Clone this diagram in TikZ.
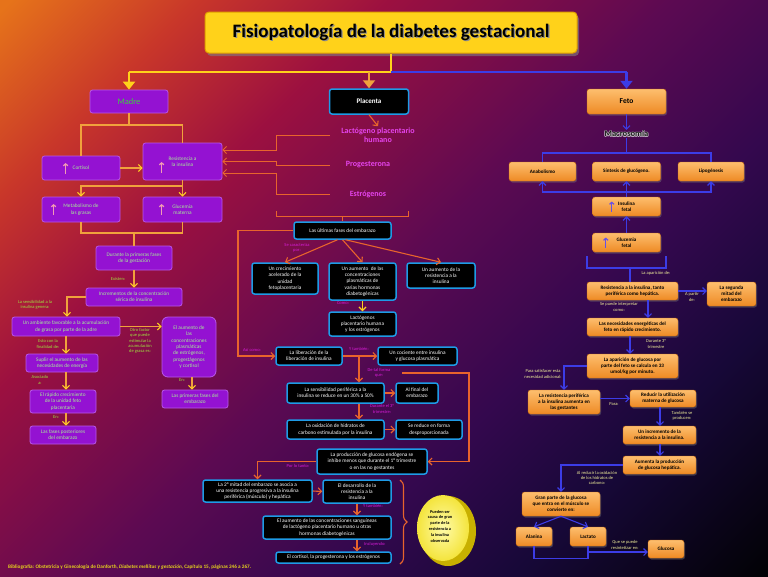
\documentclass[tikz,border=0pt]{standalone}
\usepackage{fontspec}
\setmainfont{Carlito}
\usetikzlibrary{calc}
\usetikzlibrary{arrows.meta,decorations.pathreplacing,shadows}

% colores del fondo
\definecolor{fondo0}{HTML}{E6731A}
\definecolor{fondo1}{HTML}{C8362A}
\definecolor{fondo2}{HTML}{9C1040}
\definecolor{fondo3}{HTML}{5C0A52}
\definecolor{fondo4}{HTML}{34084E}
\definecolor{fondo5}{HTML}{170838}
\definecolor{fondo6}{HTML}{020206}
\pgfdeclarehorizontalshading{fondo}{100bp}{color(0bp)=(fondo0); color(15bp)=(fondo0); color(25bp)=(fondo1); color(35bp)=(fondo2); color(50bp)=(fondo3); color(62bp)=(fondo4); color(72bp)=(fondo5); color(85bp)=(fondo6); color(100bp)=(fondo6)}

% colores de cajas y lineas
\definecolor{oro}{HTML}{FFD21A}
\definecolor{oroborde}{HTML}{E0A000}
\definecolor{lila}{HTML}{9412D2}
\definecolor{lilaborde}{HTML}{B858E8}
\definecolor{verdeM}{HTML}{3CD23C}
\definecolor{verdeT}{HTML}{A6EE96}
\definecolor{verdeE}{HTML}{9EE040}
\definecolor{celeste}{HTML}{1E9BE6}
\definecolor{magentaE}{HTML}{D81CD8}
\definecolor{magentaH}{HTML}{E444EC}
\definecolor{naranjaA}{HTML}{FDBE6E}
\definecolor{naranjaB}{HTML}{EE8A24}
\definecolor{naranjaborde}{HTML}{C86A10}
\definecolor{amarilloE}{HTML}{F0EE9A}
\definecolor{lineaIzq}{HTML}{F0A23C}
\definecolor{puntaIzq}{HTML}{FFD21F}
\definecolor{lineaCen}{HTML}{E8642C}
\definecolor{lineaDer}{HTML}{3C3CE6}
\definecolor{rosa}{HTML}{F29CB4}
\definecolor{violeta}{HTML}{6650E8}
\definecolor{moneda}{HTML}{F4E43C}
\definecolor{monedaB}{HTML}{C8B000}
\definecolor{monedaC}{HTML}{FFFBA8}
\definecolor{biblio}{HTML}{E6D21E}

\tikzset{
  wh/.style 2 args={minimum width=#1pt, minimum height=#2pt},
  titulo/.style={rounded corners=4pt, fill=oro, draw=oroborde, line width=1pt,
    drop shadow={opacity=.6, shadow xshift=2pt, shadow yshift=-3pt}},
  caja/.style={rounded corners=2.5pt, align=center, inner sep=1pt, font=\fontsize{5.3}{6.3}\selectfont},
  cajaM/.style={caja, fill=lila, draw=lilaborde, line width=.8pt, text=verdeT},
  cajaP/.style={caja, fill=black, draw=celeste, line width=1.5pt, text=white},
  cajaF/.style={caja, top color=naranjaA, bottom color=naranjaB, draw=naranjaborde, line width=.4pt, text=black,
    font=\fontsize{5.1}{6.2}\selectfont\bfseries,
    drop shadow={opacity=.4, shadow xshift=1pt, shadow yshift=-1.5pt}},
  etiq/.style={align=center, inner sep=0pt, font=\fontsize{4.5}{5.3}\selectfont},
  etiqI/.style={etiq, text=verdeE},
  etiqC/.style={etiq, text=magentaE},
  etiqF/.style={etiq, text=amarilloE},
  hormona/.style={align=center, inner sep=1pt, text=magentaH, font=\fontsize{8}{9.5}\selectfont\bfseries},
  lineaI/.style={draw=lineaIzq, line width=1.1pt},
  lineaC/.style={draw=lineaCen, line width=1.1pt},
  lineaF/.style={draw=lineaDer, line width=1.1pt},
  flechaI/.style={lineaI, -{Straight Barb[length=3.5pt, width=7pt, color=puntaIzq]}},
  flechaC/.style={lineaC, -{Straight Barb[length=3.5pt, width=7pt]}},
  flechaF/.style={lineaF, -{Straight Barb[length=3.5pt, width=7pt]}},
  icono/.style={line width=1.2pt, -{Straight Barb[length=2pt, width=4.5pt]}},
}

\begin{document}
\begin{tikzpicture}[x=1pt,y=-1pt]
  % fondo
  \useasboundingbox (0,0) rectangle (768,576);
  \shade[shading=fondo, shading angle=-45] (0,0) rectangle (768,576);

  % titulo y tres ramas
  \node[titulo, wh={372}{41}] (tit) at (391,32.5) {};
  \node[text=black!45, font=\fontsize{19}{21}\selectfont\bfseries] (titsombra) at (392.2,33.8) {Fisiopatología de la diabetes gestacional};
  \node[text=black, font=\fontsize{19}{21}\selectfont\bfseries] (tittexto) at (391,32.5) {Fisiopatología de la diabetes gestacional};
  \node[cajaM, wh={78}{23}, text=verdeM, font=\fontsize{8.5}{10}\selectfont] (madre) at (129,101.5) {Madre};
  \node[cajaP, wh={79}{25}, font=\fontsize{7}{8}\selectfont\bfseries] (plac) at (369,101.5) {Placenta};
  \node[cajaF, wh={79}{25}, font=\fontsize{7.5}{9}\selectfont\bfseries] (feto) at (626.5,101.5) {Feto};
  \coordinate (r0) at (391,72);
  \draw[draw=oro, line width=2.5pt] (tit.south) -- (r0) -- (madre.north |- r0);
  \draw[draw=lineaDer, line width=2.5pt] (r0) -- (feto.north |- r0);
  \draw[draw=oro, line width=2.5pt, -{Triangle[length=8pt, width=12pt]}] (madre.north |- r0) -- (madre.north);
  \draw[draw=lineaIzq, line width=2.5pt, -{Triangle[length=8pt, width=12pt]}] (plac.north |- r0) -- (plac.north);
  \draw[draw=lineaDer, line width=2.5pt, -{Triangle[length=8pt, width=12pt]}] (feto.north |- r0) -- (feto.north);

  % ---------- Madre ----------
  \node[cajaM, wh={78}{24}] (cort) at (81,168) {Cortisol};
  \node[cajaM, wh={79}{37}] (res) at (182.5,161.5) {Resistencia a\\la insulina};
  \node[cajaM, wh={78}{25}] (meta) at (81,209.5) {Metabolismo de\\las grasas};
  \node[cajaM, wh={79}{25}] (gluc) at (182.5,209.5) {Glucemia\\materna};
  \draw[icono, draw=rosa] ($(cort.west)+(24,6)$) -- ++(0,-11);
  \draw[icono, draw=rosa] ($(res.west)+(19,11.5)$) -- ++(0,-11);
  \draw[icono, draw=rosa] ($(meta.west)+(12,5.5)$) -- ++(0,-11);
  \draw[icono, draw=rosa] ($(gluc.west)+(19,5.5)$) -- ++(0,-11);
  \coordinate (m1) at (129,125);
  \draw[lineaI] (madre.south) -- (m1);
  \draw[lineaI] (cort.north) |- (m1) -| (res.north);
  \draw[flechaI] (cort.east) -- (res.west |- cort.east);
  \coordinate (m2) at (182.5,186);
  \draw[flechaI] (res.south) -- (gluc.north);
  \draw[flechaI] (m2) -| (meta.north);
  \coordinate (m3) at (134,233);
  \draw[lineaI] (meta.south) |- (m3) -| (gluc.south);

  \node[cajaM, wh={76}{24}] (dur) at (134,258) {Durante la primeras fases\\de la gestación};
  \node[cajaM, wh={96}{18}] (inc) at (134,297) {Incrementos de la concentración\\sérica de insulina};
  \node[cajaM, wh={108}{19}] (amb) at (66,326.5) {Un ambiente favorable a la acumulación\\de grasa por parte de la adre};
  \node[cajaM, wh={54}{60}, rounded corners=6pt] (conc) at (189,347) {El aumento de\\las\\concentraciones\\plasmáticas\\de estrógenos,\\progestágenos\\y cortisol};
  \node[cajaM, wh={72}{18}] (sup) at (62,363) {Suplir el aumento de las\\necesidades de energía};
  \node[cajaM, wh={66}{23}] (rap) at (63,401.5) {El rápido crecimiento\\de la unidad feto\\placentaria};
  \node[cajaM, wh={66}{18}] (post) at (63,435) {Las fases posteriores\\del embarazo};
  \node[cajaM, wh={66}{18}] (prim) at (195,399) {Las primeras fases del\\embarazo};
  \draw[lineaI] (m3) -- (dur.north);
  \draw[flechaI] (dur.south) -- (inc.north);
  \draw[flechaI] (inc.west) -| (amb.north -| 67,0);
  \draw[flechaI] (amb.east) -- (conc.west |- amb.east);
  \coordinate (xl) at (66,0);
  \draw[flechaI] (amb.south -| xl) -- (sup.north -| xl);
  \draw[flechaI] (sup.south -| xl) -- (rap.north -| xl);
  \draw[flechaI] (rap.south -| xl) -- (post.north -| xl);
  \draw[flechaI] (conc.south -| 192,0) -- (prim.north -| 192,0);
  \node[etiqI] (e1) at (118,279) {Existen:};
  \node[etiqI] (e2) at (35,305) {La sensibilidad a la\\insulina genera:};
  \node[etiqI] (e3) at (140,341) {Otro factor\\que puede\\estimular la\\acumulación\\de grasa es:};
  \node[etiqI] (e4) at (48,344) {Esto con la\\finalidad de:};
  \node[etiqI] (e5) at (40,380) {Asociado\\a:};
  \node[etiqI] (e6) at (56,417) {En:};
  \node[etiqI] (e7) at (182,380) {En:};

  % ---------- Placenta ----------
  \node[hormona] (lact) at (378,135) {Lactógeno placentario\\humano};
  \node[hormona] (prog) at (368,165) {Progesterona};
  \node[hormona] (estr) at (368,194) {Estrógenos};
  \draw[flechaC] (plac.south) -- (lact.north);
  \coordinate (hx) at (330,0);
  \coordinate (bx) at (276,0);
  \draw[flechaC, line width=.9pt] (lact.west -| hx) -- (lact.west -| bx) |- ($(res.east)+(0,-11.5)$);
  \draw[flechaC, line width=.9pt] (prog.west -| hx) -- (prog.west -| bx) |- (res.east);
  \draw[flechaC, line width=.9pt] (estr.west -| hx) -- (estr.west -| bx) |- ($(res.east)+(0,11.5)$);
  % llave bajo las hormonas
  \coordinate (k1) at (276,211);
  \coordinate (k2) at (408,211);
  \coordinate (k3) at (342.5,216);
  \draw[lineaC, line width=.9pt] (k1) -- ($(k1)+(0,5)$) -- ($(k2)+(0,5)$) -- (k2);

  \node[cajaP, wh={97}{17}] (ult) at (342.5,230.5) {Las últimas fases del embarazo};
  \node[cajaP, wh={66}{31}] (b1) at (285,278.5) {Un crecimiento\\acelerado de la\\unidad\\fetoplacentaria};
  \node[cajaP, wh={67}{37}] (b2) at (362.5,281.5) {Un aumento \ de las\\concentraciones\\plasmáticas de\\varias hormonas\\diabetogénicas};
  \node[cajaP, wh={68}{25}] (b3) at (441,275.5) {Un aumento de la\\resistencia a la\\insulina};
  \node[cajaP, wh={67}{24}] (b4) at (362.5,324) {Lactógenos\\placentario humana\\y los estrógenos};
  \draw[lineaC, line width=.9pt] (k3) -- (ult.north);
  \draw[flechaC] ([xshift=-5pt]ult.south) -- (b1.north);
  \draw[flechaC] (ult.south) -- (b2.north);
  \draw[flechaC] ([xshift=3pt]ult.south) -- (b3.north);
  \draw[flechaI, draw=puntaIzq] (b2.south) -- (b4.north);
  \node[etiqC] (c1) at (297,248) {Se caracteriza\\por:};
  \node[etiqC] (c2) at (343,303) {Como:};

  \node[cajaP, wh={66}{18}] (lib) at (309,356) {La liberación de la\\liberación de insulina};
  \node[cajaP, wh={79}{18}] (coc) at (417.5,356) {Un cociente entre insulina\\y glucosa plasmática};
  \node[cajaP, wh={97}{20}] (sen) at (335.5,393) {La sensibilidad periférica a la\\insulina se reduce en un 30\% a 50\%};
  \node[cajaP, wh={42}{20}] (fin) at (417,393) {Al final del\\embarazo};
  \node[cajaP, wh={97}{19}] (oxi) at (335.5,429.5) {La oxidación de hidratos de\\carbono estimulada por la insulina};
  \node[cajaP, wh={66}{19}] (des) at (429,429.5) {Se reduce en forma\\desproporcionada};
  \coordinate (c0) at (238,230);
  \draw[flechaC] (ult.west) -- (ult.west -| c0) |- (lib.west);
  \draw[flechaC] (lib.east) -- (coc.west);
  \coordinate (j1) at (359,356);
  \draw[flechaC] (j1) -- (j1 |- sen.north);
  \draw[flechaC] (sen.east) -- (fin.west);
  \draw[flechaC] (sen.south -| j1) -- (oxi.north -| j1);
  \draw[flechaC] (oxi.east) -- (des.west);
  \node[etiqC] (c3) at (252,350) {Así como:};
  \node[etiqC] (c4) at (359,349) {Y también:};
  \node[etiqC] (c5) at (379,373) {De tal forma\\que:};
  \node[etiqC] (c6) at (382,409) {Durante el 3°\\trimestre:};

  \node[cajaP, wh={110}{25}] (pro) at (372,461.5) {La producción de glucosa endógena se\\inhibe menos que durante el 1° trimestre\\o en las no gestantes};
  \node[cajaP, wh={109}{22}] (mit) at (257.5,491) {La 2° mitad del embarazo se asocia a\\una resistencia progresiva a la insulina\\periférica (músculo) y hepática};
  \node[cajaP, wh={68}{23}] (desa) at (357,491.5) {El desarrollo de la\\resistencia a la\\insulina};
  \node[cajaP, wh={128}{23}] (aum) at (327,527.5) {El aumento de las concentraciones sanguíneas\\de lactógeno placentario humano u otras\\hormonas diabetogénicas};
  \node[cajaP, wh={115}{11}] (cor) at (333.5,557.5) {El cortisol, la progesterona y los estrógenos};
  \coordinate (j2) at (402,373);
  \coordinate (j3) at (469,373);
  \draw[flechaC] (j2) -- (j3) |- (pro.east);
  \draw[flechaC] (pro.west) -| (mit.north);
  \draw[flechaC] (mit.east) -- (desa.west);
  \draw[flechaC] (desa.south) -- (desa.south |- aum.north);
  \draw[flechaC] (aum.south -| desa.south) -- (cor.north -| desa.south);
  \node[etiqC] (c7) at (298,466) {Por lo tanto:};
  \node[etiqC] (c8) at (373,506) {Y también:};
  \node[etiqC] (c9) at (375,544) {Incluyendo:};
  % llave y moneda
  \draw[lineaC, decorate, decoration={brace, amplitude=7pt}] (400,480) -- (400,564);
  \fill[monedaB] (448,531) ellipse [x radius=28, y radius=35];
  \shade[inner color=monedaC, outer color=moneda] (443,528) ellipse [x radius=26, y radius=33];
  \node[font=\fontsize{4.3}{5.8}\selectfont\bfseries, align=center, text=black] (nota) at (440,526) {Pueden ser\\causa de gran\\parte de la\\resistencia a\\la insulina\\observada};

  % ---------- Feto ----------
  \foreach \dx/\dy [count=\i] in {-.6/0, .6/0, 0/-.6, 0/.6, -.5/-.5, .5/.5, -.5/.5, .5/-.5}
    \node[text=white!75!gray, opacity=.5, font=\fontsize{8.5}{10}\selectfont\bfseries, inner sep=1pt] (halo\i) at (626.5+\dx,134+\dy) {Macrosomía};
  \node[text=black!90, font=\fontsize{8.5}{10}\selectfont\bfseries, inner sep=1pt] (macro) at (626.5,134) {Macrosomía};
  \node[cajaF, wh={67}{19}] (ana) at (542.5,171.5) {Anabolismo};
  \node[cajaF, wh={68}{19}] (sin) at (626.5,171.5) {Síntesis de glucógeno.};
  \node[cajaF, wh={66}{19}] (lip) at (711,171.5) {Lipogénesis};
  \node[cajaF, wh={68}{19}] (ins) at (626.5,206.5) {Insulina\\fetal};
  \node[cajaF, wh={68}{19}] (glf) at (626.5,242.5) {Glucemia\\fetal};
  \draw[icono, draw=violeta] ($(ins.west)+(19.5,5)$) -- ++(0,-10);
  \draw[icono, draw=violeta] ($(glf.west)+(13.5,5)$) -- ++(0,-10);
  \draw[flechaF] (feto.south) -- (macro.north);
  \coordinate (f1) at (626.5,153);
  \draw[lineaF] (macro.south) -- (f1);
  \draw[lineaF] (ana.north) |- (f1) -| (lip.north);
  \coordinate (f2) at (626.5,192);
  \draw[lineaF] (ins.north) -- (f2);
  \draw[flechaF] (f2) -- (sin.south);
  \draw[flechaF] (f2) -| (ana.south);
  \draw[flechaF] (f2) -| (lip.south);
  \draw[flechaF] (glf.north) -- (ins.south);
  % corchete bajo glucemia fetal
  \coordinate (f3) at (630,268);
  \draw[lineaF] (587,256) -- (587,268) -- (666,268) -- (666,256);

  \node[cajaF, wh={91}{18}] (rf) at (632.5,291) {Resistencia a la insulina, tanto\\periférica como hepática.};
  \node[cajaF, wh={49}{24}] (seg) at (731.5,294) {La segunda\\mitad del\\embarazo};
  \node[cajaF, wh={91}{18}] (nec) at (632.5,327) {Las necesidades energéticas del\\feto en rápido crecimiento.};
  \node[cajaF, wh={91}{24}] (apa) at (632.5,366) {La aparición de glucosa por\\parte del feto se calcula en 33\\umol/kg por minuto.};
  \node[cajaF, wh={72}{24}] (per) at (564,402) {La resistencia periférica\\a la insulina aumenta en\\las gestantes};
  \node[cajaF, wh={66}{17}] (red) at (663,398.5) {Reducir la utilización\\materna de glucosa};
  \node[cajaF, wh={73}{18}] (inc2) at (659.5,435) {Un incremento de la\\resistencia a la insulina.};
  \node[cajaF, wh={73}{18}] (aug) at (659.5,465) {Aumenta la producción\\de glucosa hepática.};
  \node[cajaF, wh={78}{24}] (gran) at (561,504) {Gran parte de la glucosa\\que entra en el músculo se\\convierte en:};
  \node[cajaF, wh={36}{19}] (ala) at (534,536.5) {Alanina};
  \node[cajaF, wh={36}{19}] (lac) at (588,536.5) {Lactato};
  \node[cajaF, wh={36}{18}] (glu) at (666,549) {Glucosa};
  \coordinate (f4) at (648,0);
  \coordinate (f5) at (660,0);
  \coordinate (f6) at (588,552);
  \draw[lineaF] (f3) -- (rf.north -| f3);
  \draw[flechaF] (rf.east) -- (seg.west |- rf.east);
  \draw[flechaF] (rf.south -| f4) -- (nec.north -| f4);
  \draw[flechaF] (nec.south -| f3) -- (apa.north -| f3);
  \draw[flechaF] (apa.west) -| (per.north);
  \draw[flechaF] (per.east |- red.west) -- (red.west);
  \draw[flechaF] (red.south -| f5) -- (inc2.north -| f5);
  \draw[flechaF] (inc2.south -| f5) -- (aug.north -| f5);
  \draw[flechaF] (aug.west) -| (gran.north);
  \draw[flechaF] (gran.south) -- (ala.north);
  \draw[flechaF] (gran.south) -- (lac.north);
  \draw[lineaF] (ala.south) -- ++(0,12) -| (lac.south);
  \draw[flechaF] (f6) -- (glu.west |- f6);
  \node[etiqF] (d1) at (656,273) {La aparición de:};
  \node[etiqF] (d2) at (692,297) {A partir\\de:};
  \node[etiqF] (d3) at (619,307) {Se puede interpretar\\como:};
  \node[etiqF] (d4) at (656,344) {Durante 3°\\trimestre};
  \node[etiqF] (d5) at (543,374) {Para satisfacer esta\\necesidad adicional:};
  \node[etiqF] (d6) at (614,404) {Para:};
  \node[etiqF] (d7) at (682,416) {También se\\producen:};
  \node[etiqF] (d8) at (597,478) {Al reducir la oxidación\\de los hidratos de\\carbono:};
  \node[etiqF] (d9) at (625,545) {Que se puede\\resintetizar en:};

  % bibliografia
  \node[anchor=west, inner sep=0pt, text=biblio, font=\fontsize{5.2}{6}\selectfont\bfseries] (bib) at (8,567) {Bibliografía: Obstetricia y Ginecología de Danforth, \textit{Diabetes mellitus y gestación}, Capítulo 15, páginas 246 a 267.};
\end{tikzpicture}
\end{document}
